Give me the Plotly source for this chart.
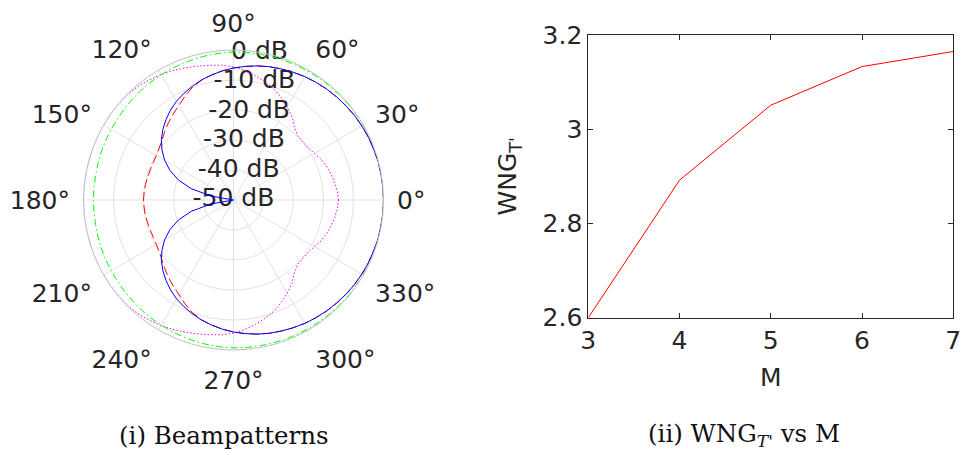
import plotly.graph_objects as go

# ---------------- data ----------------
# beampattern angles (deg), half pattern 0..180 (pattern is symmetric)
angles_half = list(range(0, 181, 5))

blue_db = [0.0, 0.0, -0.1, -0.1, -0.3, -0.4, -0.6, -0.8, -1.1, -1.4, -1.7, -2.1,
           -2.5, -3.0, -3.5, -4.0, -4.6, -5.3, -6.0, -6.8, -7.7, -8.6, -9.7, -10.8,
           -12.0, -13.4, -15.0, -16.7, -18.6, -20.9, -23.5, -26.6, -30.4, -35.4,
           -42.4, -50.0, -50.0]
red_db = [0.0, 0.0, -0.1, -0.1, -0.3, -0.4, -0.6, -0.8, -1.1, -1.4, -1.7, -2.1,
          -2.5, -3.0, -3.5, -4.0, -4.6, -5.3, -6.0, -6.8, -7.7, -8.7, -10.0, -11.8,
          -13.6, -15.0, -16.3, -17.6, -18.9, -19.8, -20.3, -20.5, -20.5, -20.4,
          -20.2, -20.1, -20.0]
green_db = [0.0, 0.0, 0.0, 0.0, -0.05, -0.1, -0.1, -0.15, -0.2, -0.25, -0.3, -0.35,
            -0.4, -0.45, -0.5, -0.55, -0.6, -0.65, -0.7, -0.85, -1.0, -1.2, -1.4, -1.6,
            -1.8, -2.0, -2.2, -2.4, -2.6, -2.8, -2.9, -3.0, -3.1, -3.2, -3.3, -3.3, -3.3]
magenta_db = [-15.0, -15.3, -15.8, -16.4, -17.0, -17.8, -18.9, -19.6, -19.8, -19.7,
              -18.4, -16.0, -14.2, -12.3, -10.6, -9.2, -7.9, -6.7, -5.6, -4.9, -4.4,
              -3.8, -3.1, -2.4, -1.7, -1.1, -0.5, -0.2, -0.05, 0.0, 0.0, 0.0, 0.0,
              0.0, 0.0, 0.0, 0.0]

r_ticks = [0, -10, -20, -30, -40, -50]
r_ticktext = ["0 dB", "-10 dB", "-20 dB", "-30 dB", "-40 dB", "-50 dB"]
theta_ticks = list(range(0, 360, 30))
theta_ticktext = [f"{a}°" for a in theta_ticks]

M_vals = [3, 4, 5, 6, 7]
wng_vals = [2.6, 2.892, 3.051, 3.133, 3.165]
y_ticks = [2.6, 2.8, 3.0, 3.2]
y_ticktext = ["2.6", "2.8", "3", "3.2"]

# ---------------- helpers ----------------
def full_circle(half):
    return half + list(reversed(half[:-1]))

theta_full = angles_half + [360 - a for a in reversed(angles_half[:-1])]

FONT = "DejaVu Sans"
TXT = "#262626"
FS = 25
W, H = 965, 455

fig = go.Figure()

# radial labels (MATLAB style, centred on the 80 deg axis)
fig.add_trace(go.Scatterpolar(
    r=r_ticks, theta=[80] * len(r_ticks), mode="text", text=r_ticktext,
    textposition="middle center", textfont=dict(family=FONT, size=FS, color=TXT),
    showlegend=False, hoverinfo="skip", cliponaxis=False))

series = [
    (magenta_db, "#ff00ff", "1.5px,2px"),
    (green_db, "#00ff00", "7px,3px,1.5px,3px"),
    (red_db, "#ff0000", "9px,4px"),
    (blue_db, "#0000ff", "solid"),
]
for vals, col, dash in series:
    fig.add_trace(go.Scatterpolar(
        r=full_circle(vals), theta=theta_full, mode="lines",
        line=dict(color=col, width=1, dash=dash),
        showlegend=False, hoverinfo="skip", cliponaxis=False))

# right plot
fig.add_trace(go.Scatter(
    x=M_vals, y=wng_vals, mode="lines", line=dict(color="#ff0000", width=1),
    showlegend=False, xaxis="x", yaxis="y", cliponaxis=False))

fig.update_layout(
    width=W, height=H, autosize=False,
    margin=dict(l=0, r=0, t=0, b=0, pad=0, autoexpand=False),
    paper_bgcolor="white", plot_bgcolor="white",
    font=dict(family=FONT, size=FS, color=TXT),
    polar=dict(
        domain=dict(x=[83.5 / W, 383.5 / W], y=[1 - 350 / H, 1 - 50 / H]),
        bgcolor="white",
        angularaxis=dict(
            rotation=0, direction="counterclockwise",
            tickmode="array", tickvals=theta_ticks, ticktext=theta_ticktext,
            tickfont=dict(family=FONT, size=FS, color=TXT),
            showline=True, linecolor="#c0c0c0", linewidth=1,
            gridcolor="#e2e2e2", gridwidth=1,
            ticks="outside", ticklen=8, tickcolor="rgba(0,0,0,0)"),
        radialaxis=dict(
            range=[-50, 0], tickmode="array", tickvals=r_ticks,
            showticklabels=False, ticks="", showline=False,
            gridcolor="#e2e2e2", gridwidth=1, angle=80),
    ),
    xaxis=dict(
        domain=[588.3 / W, 953.3 / W], range=[3, 7], automargin=False,
        tickmode="array", tickvals=M_vals, ticks="inside", ticklen=5,
        tickcolor=TXT, showline=True, linecolor=TXT, linewidth=1, mirror="ticks",
        showgrid=False, zeroline=False,
        tickfont=dict(family=FONT, size=FS, color=TXT),
        title=dict(text="M", font=dict(family=FONT, size=FS, color=TXT), standoff=14),
        anchor="y"),
    yaxis=dict(
        domain=[1 - 317.7 / H, 1 - 35 / H], range=[2.6, 3.2], automargin=False,
        tickmode="array", tickvals=y_ticks, ticktext=y_ticktext,
        ticks="inside", ticklen=5, tickcolor=TXT,
        showline=True, linecolor=TXT, linewidth=1, mirror="ticks",
        showgrid=False, zeroline=False,
        tickfont=dict(family=FONT, size=FS, color=TXT),
        title=dict(text="WNG<sub>T'</sub>", font=dict(family=FONT, size=FS, color=TXT),
                   standoff=18),
        anchor="x"),
    annotations=[
        dict(text="(i) Beampatterns", xref="paper", yref="paper",
             x=224 / W, y=1 - 435 / H, xanchor="center", yanchor="middle",
             showarrow=False, font=dict(family="DejaVu Serif", size=24.5, color="#111111")),
        dict(text="(ii) WNG<sub><i>T'</i></sub> vs M", xref="paper", yref="paper",
             x=744 / W, y=1 - 435 / H, xanchor="center", yanchor="middle",
             showarrow=False, font=dict(family="DejaVu Serif", size=24.5, color="#111111")),
    ],
)

fig.write_html("out.html", config={"displayModeBar": False},
               post_script="document.body.style.margin='0';")
